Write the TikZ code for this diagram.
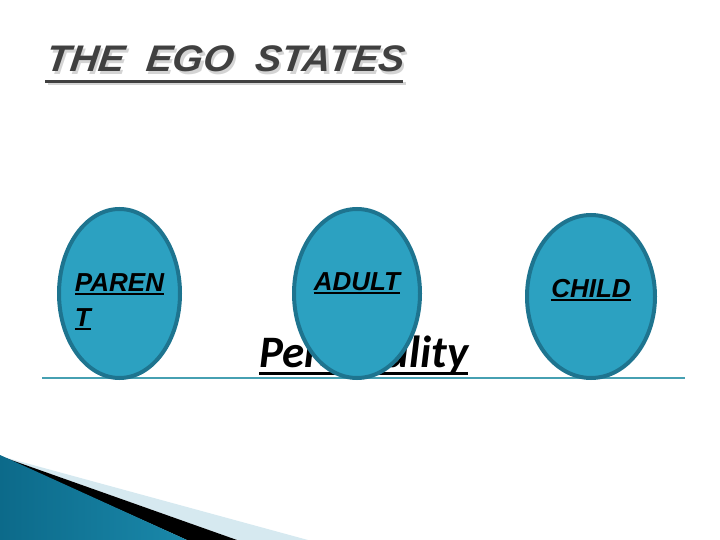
\documentclass[tikz,border=0pt]{standalone}
\usepackage{fontspec}
\usepackage{xcolor}
\usetikzlibrary{shapes.geometric, positioning}
\newfontfamily\arialfont{Liberation Sans}
\newfontfamily\calfont{Carlito}
\newfontfamily\slantfont[FakeSlant=0.12]{Liberation Sans}
\definecolor{eggfill}{RGB}{44, 161, 193}
\definecolor{eggedge}{RGB}{30, 116, 143}
\definecolor{titlegray}{RGB}{64, 64, 64}
\definecolor{shadowgray}{RGB}{212, 212, 212}
\definecolor{groundline}{RGB}{70, 160, 178}
\definecolor{wedgedark}{RGB}{12, 106, 138}
\definecolor{wedgelight}{RGB}{96, 196, 230}
\definecolor{wedgeend}{RGB}{26, 136, 170}
\definecolor{wedgepale}{RGB}{214, 233, 240}
\newcommand{\thickul}[3]{\setbox0=\hbox{#3}\rlap{\rule[-#1]{\wd0}{#2}}\box0}
\tikzset{
    eggnode/.style = {draw=eggedge, fill=eggfill, ellipse, line width=4pt, inner sep=0pt},
    eggtext/.style = {draw=none, inner sep=0pt, align=left,
      font=\arialfont\bfseries\itshape\fontsize{26}{35}\selectfont},
    titletext/.style = {inner sep=0pt, anchor=base west, xscale=1.06, transform shape,
      font=\slantfont\bfseries\itshape\fontsize{37}{44}\selectfont},
    bigtext/.style = {inner sep=0pt, anchor=base west,
      font=\calfont\bfseries\itshape\fontsize{45}{54}\selectfont}
}

\begin{document}
\begin{tikzpicture}[x=1pt, y=-1pt]
    \useasboundingbox (0,0) rectangle (720,540);

    % corner wedges
    \fill[wedgepale] (0,456) -- (308,540) -- (237,540) -- cycle;
    \fill[black] (0,456) -- (237,540) -- (187,540) -- cycle;
    \shade[left color=wedgedark, middle color=wedgelight, right color=wedgeend]
        (0,455) -- (187,540) -- (0,540) -- cycle;

    \coordinate (groundL) at (42,378);
    \coordinate (groundR) at (685,378);
    \draw[groundline, line width=1.2pt] (groundL) -- (groundR);

    \node [name = personality, bigtext] at (259,367) {\thickul{8pt}{3pt}{Personality}};

    \node [name = parent, eggnode, minimum width=121pt, minimum height=169pt] at (119.5,293.5) {};
    \node [name = adult, eggnode, minimum width=126pt, minimum height=169pt] at (357,293.5) {};
    \node [name = child, eggnode, minimum width=128pt, minimum height=163pt] at (591,296.5) {};

    \node [name = parentlbl, eggtext, anchor=north, yshift=20.5pt] at (parent.center)
        {\thickul{4pt}{2.5pt}{PAREN}\\\thickul{4pt}{2.5pt}{T}};
    \node [name = adultlbl, eggtext, anchor=base, yshift=3.5pt] at (adult.center)
        {\thickul{4pt}{2.5pt}{ADULT}};
    \node [name = childlbl, eggtext, anchor=base, yshift=-0.5pt] at (child.center)
        {\thickul{4pt}{2.5pt}{CHILD}};

    \node [name = titleshadow, titletext, text=shadowgray] at (47.5,74.5)
        {\thickul{11pt}{3pt}{THE\ \ EGO\ \ STATES}};
    \node [name = title, titletext, text=titlegray] at (45,72)
        {\thickul{11pt}{3pt}{THE\ \ EGO\ \ STATES}};
\end{tikzpicture}
\end{document}
